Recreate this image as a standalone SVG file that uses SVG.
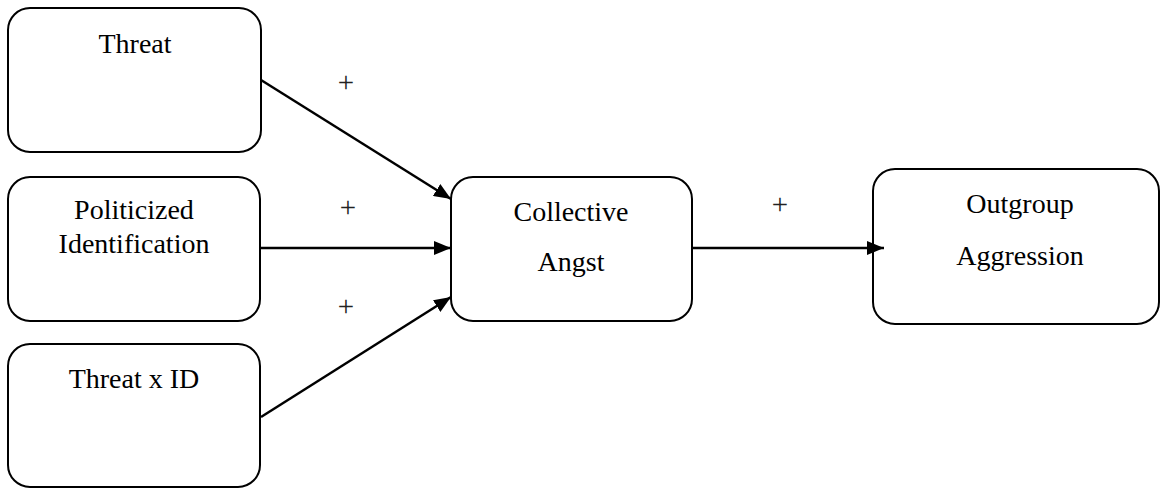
<svg xmlns="http://www.w3.org/2000/svg" width="1161" height="489" viewBox="0 0 1161 489">
<style>
.box{fill:#fff;stroke:#000;stroke-width:2}
.t{font-family:'Liberation Serif','DejaVu Serif',serif;font-size:28px;fill:#000;text-anchor:middle}
.c{stroke:#000;stroke-width:2.5;fill:none}
.p{font-family:'Liberation Serif','DejaVu Serif',serif;font-size:29px;fill:#222;text-anchor:middle}
</style>
<defs>
<marker id="ah" markerUnits="userSpaceOnUse" markerWidth="18" markerHeight="14" refX="17" refY="7" orient="auto">
<path d="M0,0 L17,7 L0,14 Z" fill="#000"/>
</marker>
</defs>
<g id="threat"><rect class="box" x="8" y="8" width="253" height="144" rx="22"/><text class="t" x="135" y="53">Threat</text></g>
<g id="politicized"><rect class="box" x="8" y="177" width="252" height="144" rx="22"/><text class="t" x="134" y="219">Politicized</text><text class="t" x="134" y="253">Identification</text></g>
<g id="threatxid"><rect class="box" x="8" y="344" width="252" height="143" rx="22"/><text class="t" x="134" y="388">Threat x ID</text></g>
<g id="angst"><rect class="box" x="451" y="177" width="241" height="144" rx="22"/><text class="t" x="571" y="221">Collective</text><text class="t" x="571" y="271">Angst</text></g>
<g id="aggression"><rect class="box" x="873" y="169" width="286" height="155" rx="22"/><text class="t" x="1020" y="213">Outgroup</text><text class="t" x="1020" y="265">Aggression</text></g>
<g id="connectors">
<line class="c" x1="261" y1="80" x2="451" y2="199" marker-end="url(#ah)"/>
<line class="c" x1="260" y1="248" x2="451" y2="248" marker-end="url(#ah)"/>
<line class="c" x1="261" y1="417" x2="451" y2="297" marker-end="url(#ah)"/>
<line class="c" x1="692" y1="248" x2="884" y2="248" marker-end="url(#ah)"/>
<text class="p" x="346" y="92">+</text>
<text class="p" x="348" y="217">+</text>
<text class="p" x="346" y="316">+</text>
<text class="p" x="780" y="214">+</text>
</g>
</svg>
